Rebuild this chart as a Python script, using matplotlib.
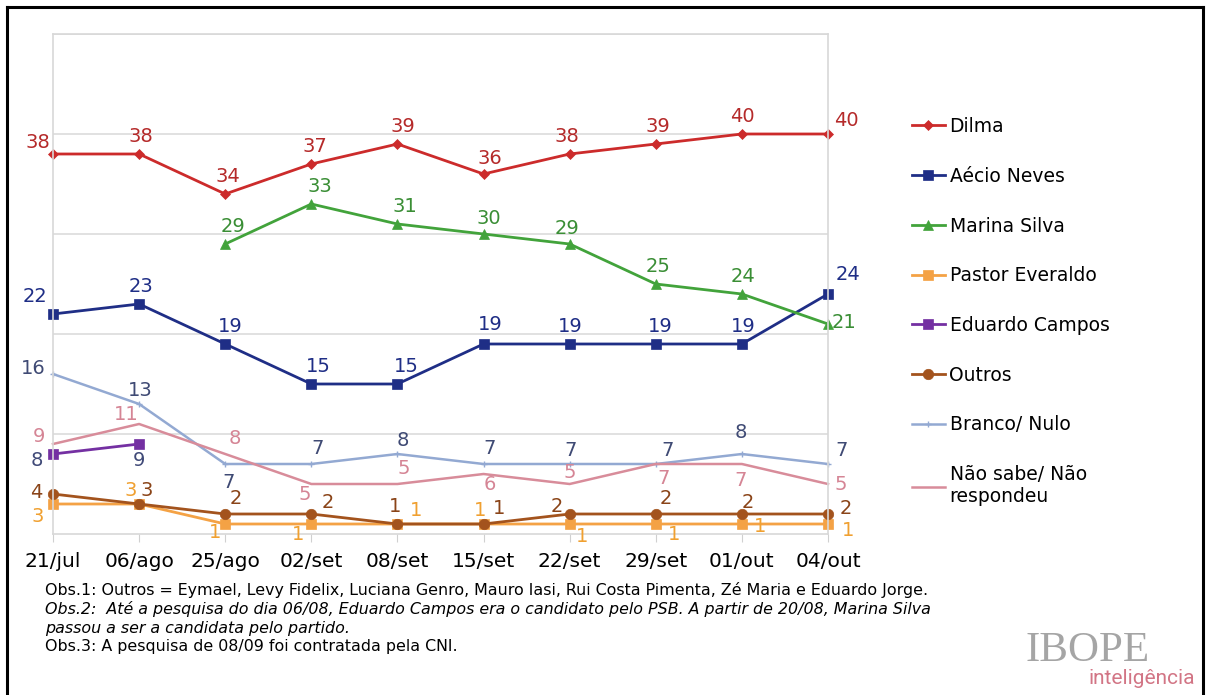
import numpy as np
import matplotlib
matplotlib.use('Agg')
import matplotlib.pyplot as plt
from matplotlib.lines import Line2D

# Intenção de voto para presidente - pesquisas IBOPE 2014

dates = ['21/jul', '06/ago', '25/ago', '02/set', '08/set', '15/set',
         '22/set', '29/set', '01/out', '04/out']

dilma = [38, 38, 34, 37, 39, 36, 38, 39, 40, 40]
aecio = [22, 23, 19, 15, 15, 19, 19, 19, 19, 24]
marina = [None, None, 29, 33, 31, 30, 29, 25, 24, 21]
everaldo = [3, 3, 1, 1, 1, 1, 1, 1, 1, 1]
campos = [8, 9, None, None, None, None, None, None, None, None]
outros = [4, 3, 2, 2, 1, 1, 2, 2, 2, 2]
branco = [16, 13, 7, 7, 8, 7, 7, 7, 8, 7]
nao_sabe = [9, 11, 8, 5, 5, 6, 5, 7, 7, 5]

# label offsets in pixels (dx, dy), one per point
off_dilma = [(-15, 11), (2, 18), (3, 17), (4, 17), (5, 17), (6, 15), (-3, 17), (2, 18), (0, 18), (18, 13)]
off_aecio = [(-18, 17), (2, 18), (5, 18), (7, 17), (9, 17), (7, 19), (1, 17), (4, 18), (1, 18), (20, 20)]
off_marina = [None, None, (8, 18), (9, 17), (7, 17), (5, 15), (-3, 16), (2, 18), (1, 17), (16, 2)]
off_everaldo = [(-15, -12), (-8, 13), (-10, -8), (-13, -10), (19, 13), (-3, 13), (12, -12), (18, -11), (18, -2), (20, -6)]
off_campos = [(-16, -6), (0, -16)] + [None] * 8
off_outros = [(-17, 1), (8, 14), (11, 15), (16, 12), (-2, 18), (16, 15), (-13, 8), (10, 16), (6, 12), (18, 5)]
off_branco = [(-20, 6), (1, 14), (3, -18), (6, 15), (5, 14), (6, 15), (1, 14), (12, 14), (-1, 22), (14, 14)]
off_nao = [(-14, 8), (-13, 9), (10, 16), (-7, -10), (6, 15), (6, -11), (0, 11), (8, -15), (-1, -16), (13, 0)]

series = [
    # name, values, line colour, label colour, marker, marker size, line width, offsets
    ('Dilma', dilma, '#CC2B2B', '#B52A2A', 'D', 5, 2.0, off_dilma),
    ('Aécio Neves', aecio, '#1F2E86', '#1F2E86', 's', 7, 2.0, off_aecio),
    ('Marina Silva', marina, '#42A33B', '#3A8E35', '^', 7.5, 2.0, off_marina),
    ('Pastor Everaldo', everaldo, '#F4A245', '#F0A030', 's', 7, 2.0, off_everaldo),
    ('Eduardo Campos', campos, '#7430A2', '#404A78', 's', 7.5, 2.0, off_campos),
    ('Outros', outros, '#A3531D', '#8A4418', 'o', 7.5, 2.0, off_outros),
    ('Branco/ Nulo', branco, '#93A9D2', '#3F4A74', '+', 4, 1.8, off_branco),
    ('Não sabe/ Não\nrespondeu', nao_sabe, '#D88C9A', '#D58595', None, 0, 1.8, off_nao),
]

fig = plt.figure(figsize=(12.06, 6.95), dpi=100)
ax = fig.add_axes([53 / 1206, 1 - 534 / 695, (828 - 53) / 1206, 500 / 695])

x = np.arange(len(dates))
handles = []
for name, vals, color, lcolor, marker, msize, lw, offs in series:
    y = np.array([np.nan if v is None else v for v in vals], dtype=float)
    line, = ax.plot(x, y, color=color, marker=marker, markersize=msize,
                    linewidth=lw, markeredgewidth=1.0 if marker == '+' else 0.5,
                    markeredgecolor=color, label=name, clip_on=False)
    handles.append(line)
    for i, v in enumerate(vals):
        if v is None or offs[i] is None:
            continue
        ax.annotate(str(v), (x[i], v), xytext=offs[i], textcoords='offset pixels',
                    ha='center', va='center', fontsize=14, color=lcolor)

ax.set_xlim(0, len(dates) - 1)
ax.set_ylim(0, 50)
ax.set_yticks([10, 20, 30, 40, 50])
ax.yaxis.grid(True, color='#DCDCDC', linewidth=1.2)
ax.set_yticklabels([])
ax.tick_params(axis='y', length=0)
ax.set_xticks(x)
ax.set_xticklabels(dates, fontsize=14.5)
ax.tick_params(axis='x', length=6, color='#D0D0D0', pad=7)
for s in ax.spines.values():
    s.set_color('#D8D8D8')
    s.set_linewidth(1.2)
ax.set_axisbelow(True)

leg = fig.legend(handles=handles, loc='upper left', bbox_to_anchor=(912 / 1206, 1 - 117 / 695),
                 frameon=False, fontsize=13.5, handlelength=1.75, handletextpad=0.25,
                 labelspacing=1.64, borderpad=0, borderaxespad=0)

# footnotes
fig.text(45 / 1206, 1 - 590 / 695, 'Obs.1: Outros = Eymael, Levy Fidelix, Luciana Genro, Mauro Iasi, '
         'Rui Costa Pimenta, Zé Maria e Eduardo Jorge.', fontsize=11.4, va='center')
fig.text(45 / 1206, 1 - 609 / 695, 'Obs.2:  Até a pesquisa do dia 06/08, Eduardo Campos era o candidato '
         'pelo PSB. A partir de 20/08, Marina Silva', fontsize=11.4, va='center', style='italic')
fig.text(45 / 1206, 1 - 628 / 695, 'passou a ser a candidata pelo partido.', fontsize=11.4,
         va='center', style='italic')
fig.text(45 / 1206, 1 - 647 / 695, 'Obs.3: A pesquisa de 08/09 foi contratada pela CNI.',
         fontsize=11.4, va='center')

# logo
fig.text(1150 / 1206, 1 - 651 / 695, 'IBOPE', fontsize=31, family='Liberation Serif',
         color='#A5A5A5', ha='right', va='center')
fig.text(1195 / 1206, 1 - 678 / 695, 'inteligência', fontsize=15, family='Roboto',
         color='#D27585', ha='right', va='center')

# outer frame
fig.add_artist(Line2D([6.5 / 1206, 6.5 / 1206], [0, 1 - 7 / 695], color='black', linewidth=2.2))
fig.add_artist(Line2D([6.5 / 1206, 1203 / 1206], [1 - 7 / 695, 1 - 7 / 695], color='black', linewidth=2.2))
fig.add_artist(Line2D([1203 / 1206, 1203 / 1206], [0, 1 - 7 / 695], color='black', linewidth=2.2))

fig.savefig('out.png', dpi=100)
